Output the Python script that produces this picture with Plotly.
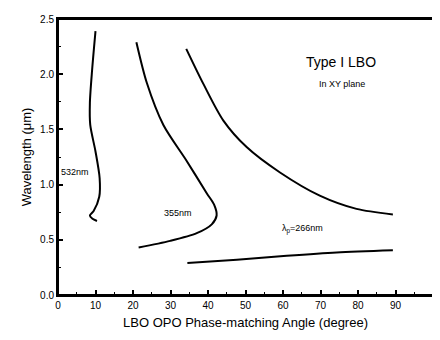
import plotly.graph_objects as go

# 532 nm pump curve
x532 = [10.0, 9.1, 8.5, 8.6, 10.0, 11.1, 11.0, 9.5, 8.5, 9.2, 10.4]
y532 = [2.39, 2.04, 1.74, 1.54, 1.30, 1.06, 0.89, 0.76, 0.72, 0.69, 0.67]

# 355 nm pump curve
x355 = [20.9, 23.7, 28.1, 34.4, 39.7, 41.6, 42.3, 41.0, 37.0, 29.9, 21.5]
y355 = [2.29, 1.92, 1.54, 1.21, 0.92, 0.82, 0.72, 0.64, 0.56, 0.49, 0.43]

# 266 nm pump, upper branch
x266u = [34.2, 38.8, 44.1, 50.3, 59.2, 69.8, 79.6, 89.3]
y266u = [2.23, 1.91, 1.58, 1.34, 1.11, 0.90, 0.78, 0.73]

# 266 nm pump, lower branch
x266l = [34.5, 47.7, 61.0, 74.3, 89.3]
y266l = [0.29, 0.32, 0.355, 0.385, 0.405]

xticks = [0, 10, 20, 30, 40, 50, 60, 70, 80, 90, 100]
yticks = [0.0, 0.5, 1.0, 1.5, 2.0, 2.5]

fig = go.Figure()
line = dict(color="black", width=2, shape="spline", smoothing=0.8)
for xs, ys in [(x532, y532), (x355, y355), (x266u, y266u), (x266l, y266l)]:
    fig.add_trace(go.Scatter(x=xs, y=ys, mode="lines", line=line, showlegend=False, hoverinfo="skip"))

font = "Arial, Liberation Sans, sans-serif"
annots = [
    dict(x=4.6, y=1.11, text="532nm", size=9),
    dict(x=31.9, y=0.74, text="355nm", size=9),
    dict(x=65.2, y=0.60, text="λ<sub>p</sub>=266nm", size=9),
    dict(x=75.5, y=2.11, text="Type I LBO", size=14),
    dict(x=75.7, y=1.91, text="In XY plane", size=9),
]
for a in annots:
    fig.add_annotation(x=a["x"], y=a["y"], text=a["text"], showarrow=False,
                       font=dict(family=font, size=a["size"], color="black"))

axis_common = dict(
    showline=True, linecolor="black", linewidth=2, mirror=True,
    ticks="inside", ticklen=5, tickwidth=1.5, tickcolor="black",
    showgrid=False, zeroline=False,
    tickfont=dict(family=font, size=10, color="black"),
    title_font=dict(family=font, size=13, color="black"),
)
fig.update_xaxes(range=[0, 100], tickvals=xticks, ticktext=[str(t) for t in xticks],
                 minor=dict(ticks="inside", ticklen=3, tickwidth=1, tickcolor="black", dtick=5),
                 title_text="LBO OPO Phase-matching Angle (degree)", title_standoff=8, **axis_common)
fig.update_yaxes(range=[0, 2.5], tickvals=yticks, ticktext=[f"{t:.1f}" for t in yticks],
                 minor=dict(ticks="inside", ticklen=3, tickwidth=1, tickcolor="black", dtick=0.25),
                 title_text="Wavelength (μm)", title_standoff=6, **axis_common)

fig.update_layout(width=432, height=332, autosize=False,
                  margin=dict(l=50, r=6, t=5, b=45),
                  plot_bgcolor="white", paper_bgcolor="white",
                  shapes=[dict(type="rect", xref="paper", yref="paper", x0=0, y0=0, x1=1, y1=1,
                               line=dict(color="black", width=2), layer="above")])

fig.write_html("out.html", config={"displayModeBar": False})
